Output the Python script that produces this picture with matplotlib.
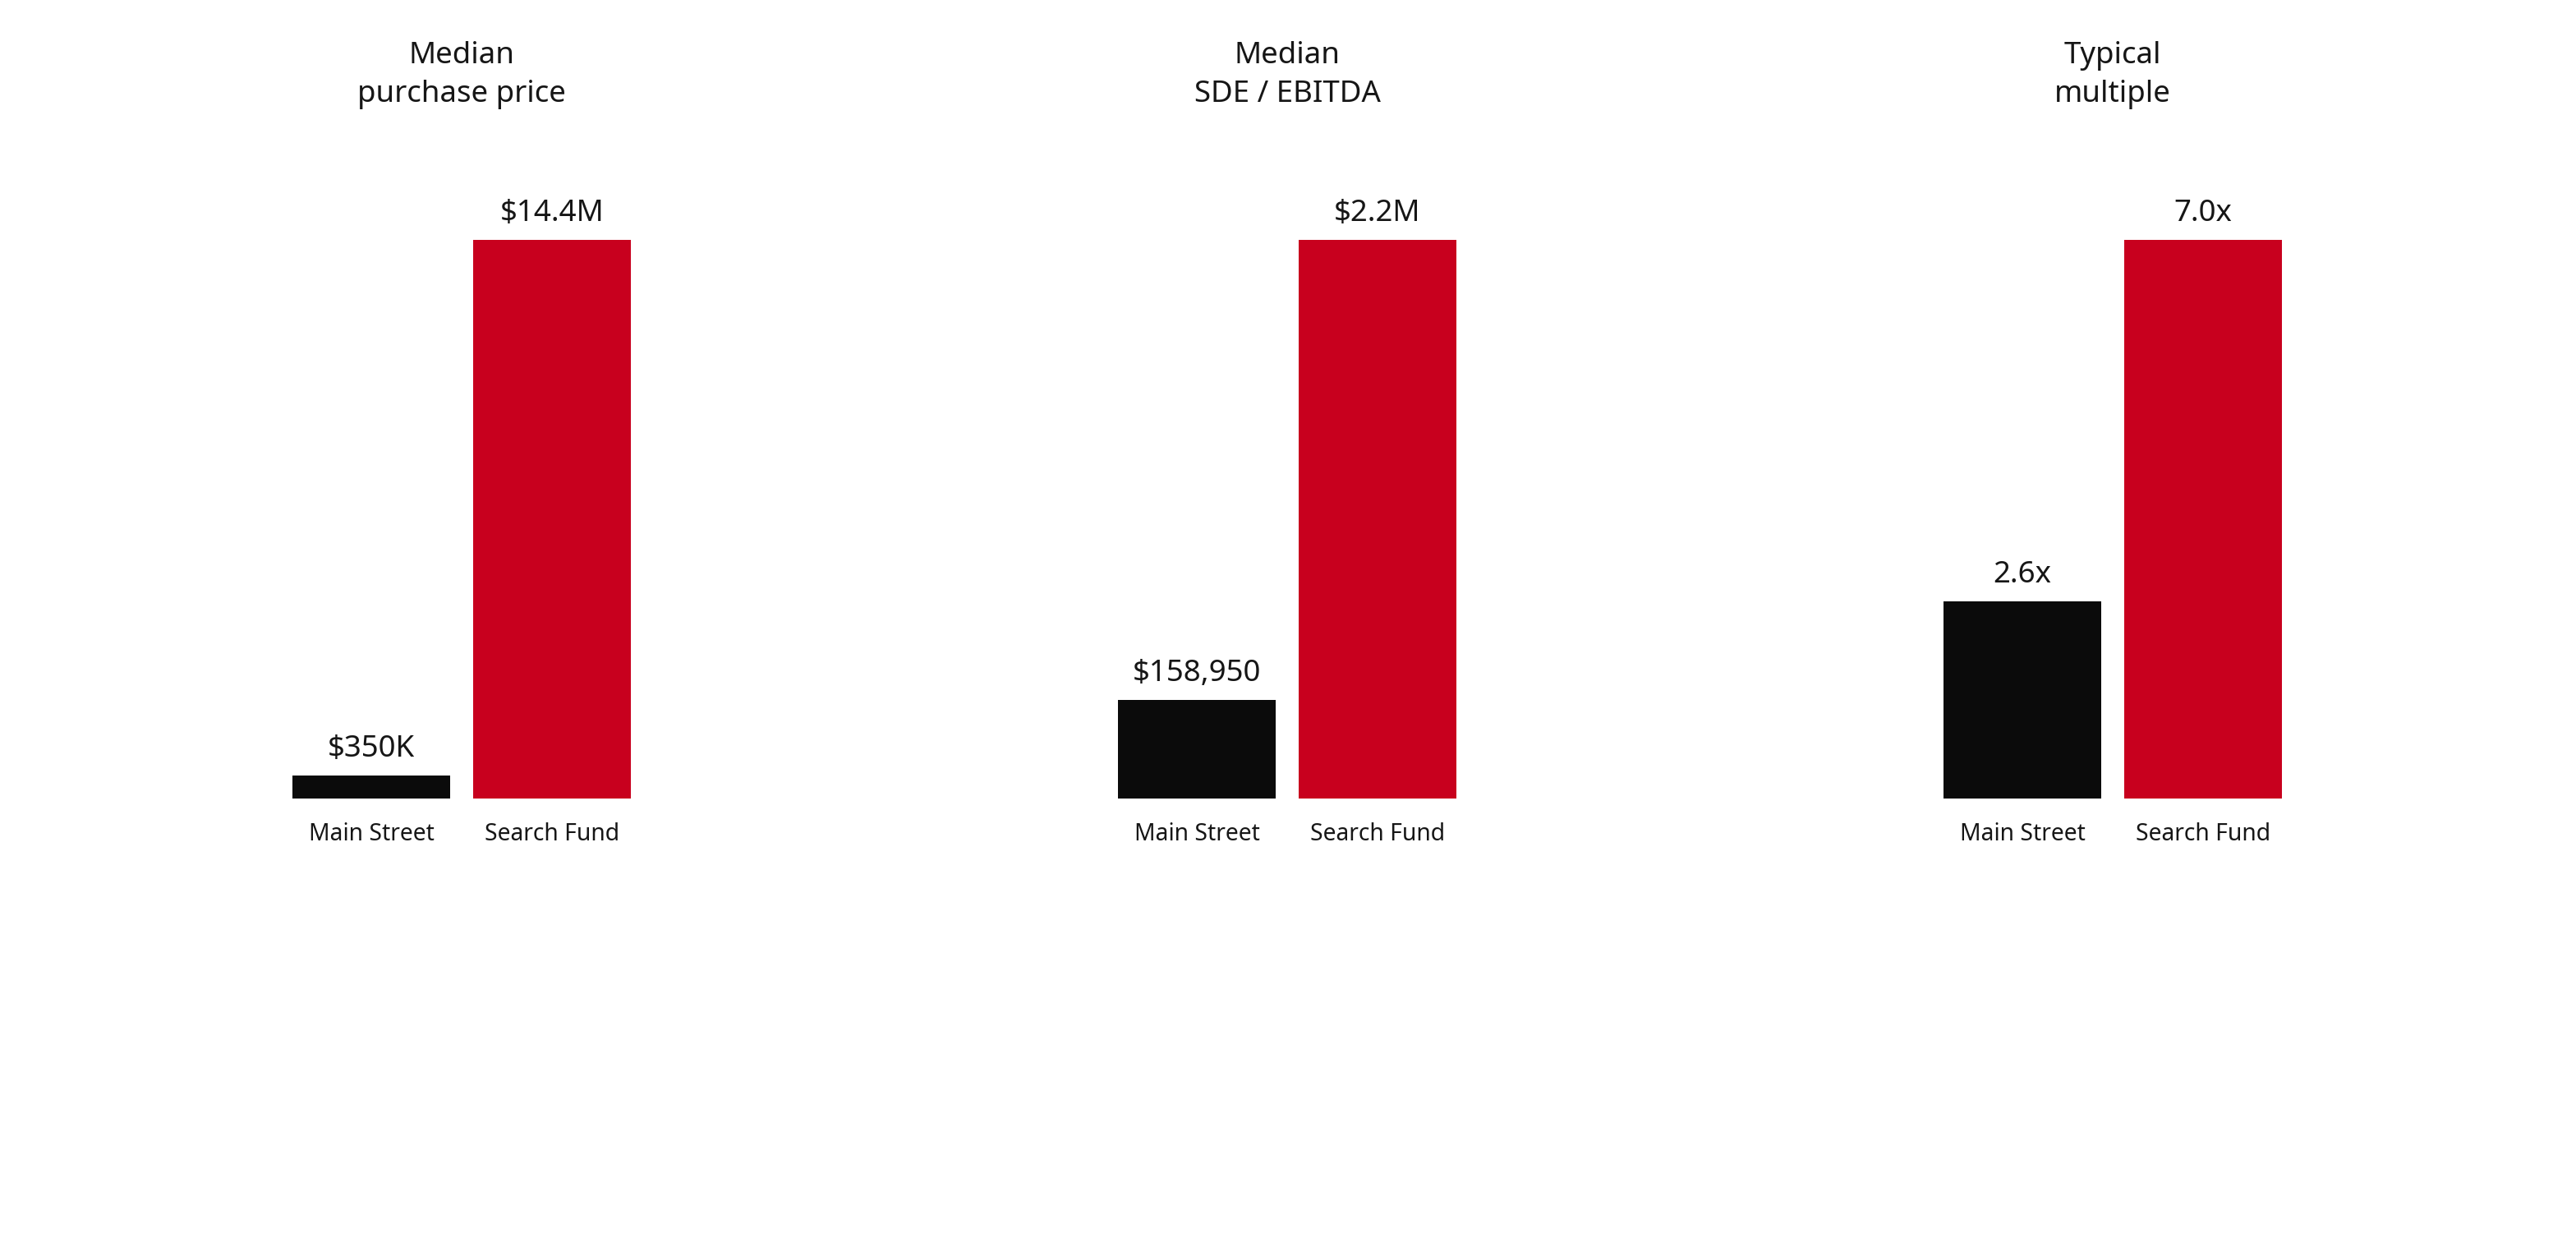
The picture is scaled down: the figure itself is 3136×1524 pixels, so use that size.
import matplotlib
matplotlib.use("Agg")
import matplotlib.pyplot as plt

plt.rcParams['font.family'] = ['Noto Sans', 'DejaVu Sans']

# ---- data ----
panel_titles = ["Median\npurchase price", "Median\nSDE / EBITDA", "Typical\nmultiple"]
categories = ["Main Street", "Search Fund"]
# bar heights as drawn (relative to the Search Fund bar of each panel)
main_street_heights = [0.041, 0.176, 0.353]
search_fund_heights = [1.0, 1.0, 1.0]
main_street_labels = ["$350K", "$158,950", "2.6x"]
search_fund_labels = ["$14.4M", "$2.2M", "7.0x"]

colors = ["#0B0B0B", "#C8001E"]
text_color = "#161616"

W, H, DPI = 3136, 1524, 200
fig = plt.figure(figsize=(W / DPI, H / DPI), dpi=DPI)
fig.patch.set_facecolor("white")

px_per_pt = DPI / 72.0
bar_w = 192 / 220.0
panel_left_px = [356, 1361, 2366]
span_px = 220 + 192
base_px = 972
top_px = 292

for i in range(3):
    left = panel_left_px[i] / W
    width = span_px / W
    bottom = (H - base_px) / H
    height = (base_px - top_px) / H
    ax = fig.add_axes([left, bottom, width, height])
    vals = [main_street_heights[i], search_fund_heights[i]]
    labs = [main_street_labels[i], search_fund_labels[i]]
    xs = [0, 1]
    ax.bar(xs, vals, width=bar_w, color=colors, linewidth=0)
    ax.set_xlim(-bar_w / 2, 1 + bar_w / 2)
    ax.set_ylim(0, 1)
    ax.axis("off")
    for x, v, lab, cat in zip(xs, vals, labs, categories):
        ax.annotate(lab, (x, v), xytext=(0, 23 / px_per_pt), textcoords="offset points",
                    ha="center", va="baseline", fontsize=13.2, fontweight="medium",
                    color=text_color)
        ax.annotate(cat, (x, 0), xytext=(0, -51 / px_per_pt), textcoords="offset points",
                    ha="center", va="baseline", fontsize=10.2, color=text_color)
    cx = (panel_left_px[i] + span_px / 2) / W
    lines = panel_titles[i].split("\n")
    for j, line in enumerate(lines):
        fig.text(cx, (H - (77 + 47 * j)) / H, line, ha="center", va="baseline",
                 fontsize=13.2, fontweight="medium", color=text_color)

fig.savefig("out.png", dpi=DPI, facecolor="white")
